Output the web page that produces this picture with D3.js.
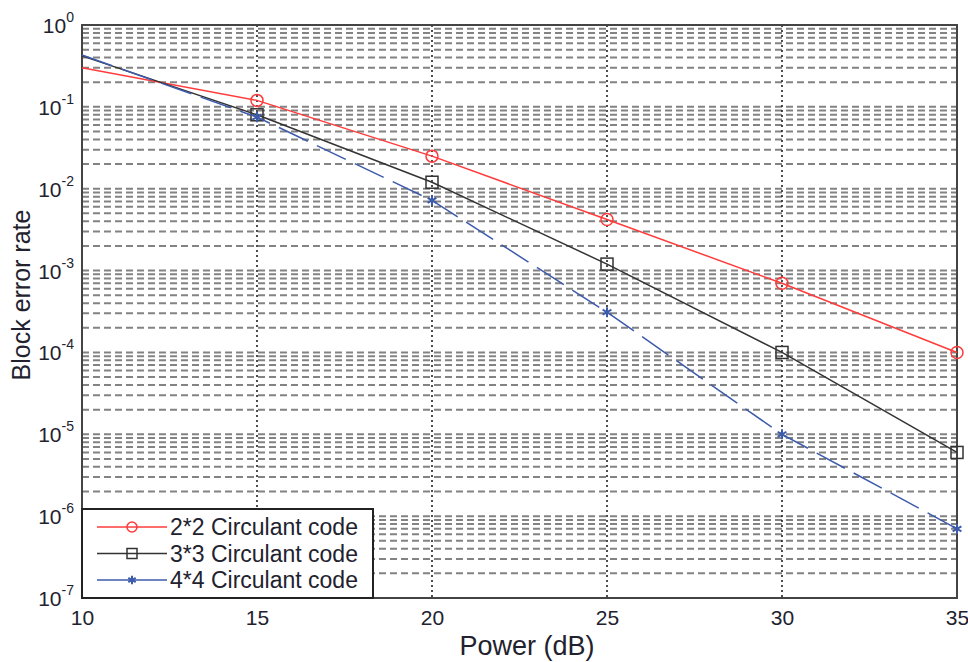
<!DOCTYPE html>
<html>
<head>
<meta charset="utf-8">
<script src="https://cdn.jsdelivr.net/npm/d3@7"></script>
<style>
  body { margin: 0; background: #fff; }
  svg text { font-family: Arial, "Liberation Sans", sans-serif; fill: #22222e; }
</style>
</head>
<body>
<div id="container"></div>
<script>
// Block error rate vs power, log scale

//_____ DATA _____
const powerDb = [ 10, 15, 20, 25, 30, 35 ];
const seriesNames = [ '2*2 Circulant code', '3*3 Circulant code', '4*4 Circulant code' ];
const ber2x2 = [ 0.30, 0.12, 0.025, 4.2e-3, 7e-4, 1e-4 ];
const ber3x3 = [ 0.42, 0.08, 0.012, 1.2e-3, 1e-4, 6e-6 ];
const ber4x4 = [ 0.43, 0.075, 7.2e-3, 3.1e-4, 1e-5, 7e-7 ];
const xTicks = [ 10, 15, 20, 25, 30, 35 ];
const yExponents = [ 0, -1, -2, -3, -4, -5, -6, -7 ];

//_____ LAYOUT _____
const W = 968, H = 662;
const margin = { top: 25, right: 11, bottom: 64, left: 82 };
const width = W - margin.left - margin.right;
const height = H - margin.top - margin.bottom;

const svg = d3.select( '#container' ).append( 'svg' )
  .attr( 'width', W ).attr( 'height', H );
const g = svg.append( 'g' ).attr( 'transform', `translate(${margin.left},${margin.top})` );

//_____ SCALES _____
const x = d3.scaleLinear().domain( [ 10, 35 ] ).range( [ 0, width ] );
const y = d3.scaleLog().domain( [ 1e-7, 1 ] ).range( [ height, 0 ] );

//_____ GRID _____
const minorVals = [];
yExponents.slice( 1 ).forEach( e => {
  for ( let k = 1; k <= 9; k++ ) minorVals.push( k * Math.pow( 10, e ) );
} );
g.append( 'g' ).selectAll( 'line' ).data( minorVals ).join( 'line' )
  .attr( 'x1', 0 ).attr( 'x2', width )
  .attr( 'y1', d => y( d ) ).attr( 'y2', d => y( d ) )
  .attr( 'stroke', '#6e6e6e' ).attr( 'stroke-width', 2 )
  .attr( 'stroke-dasharray', '7,4' ).attr( 'opacity', 0.85 );

g.append( 'g' ).selectAll( 'line' ).data( xTicks.slice( 1, -1 ) ).join( 'line' )
  .attr( 'x1', d => x( d ) ).attr( 'x2', d => x( d ) )
  .attr( 'y1', 0 ).attr( 'y2', height )
  .attr( 'stroke', '#222' ).attr( 'stroke-width', 1.6 )
  .attr( 'stroke-dasharray', '2,3' );

//_____ AXES _____
const xAxis = d3.axisBottom( x ).tickValues( xTicks ).tickSize( 0 ).tickPadding( 12 );
g.append( 'g' ).attr( 'transform', `translate(0,${height})` ).call( xAxis )
  .call( a => a.select( '.domain' ).remove() )
  .selectAll( 'text' ).style( 'font-size', '21px' ).attr( 'fill', '#22222e' );

// y tick labels as 10 with superscript exponent
const yl = g.append( 'g' );
yExponents.forEach( e => {
  const t = yl.append( 'text' )
    .attr( 'x', -8 ).attr( 'y', y( Math.pow( 10, e ) ) + 8 )
    .attr( 'text-anchor', 'end' ).style( 'font-size', '21px' );
  t.append( 'tspan' ).text( '10' );
  t.append( 'tspan' ).attr( 'dy', -11 ).style( 'font-size', '14px' ).text( e );
} );

// frame
g.append( 'rect' ).attr( 'width', width ).attr( 'height', height )
  .attr( 'fill', 'none' ).attr( 'stroke', '#444' ).attr( 'stroke-width', 2 );

//_____ SERIES _____
const series = [
  { name: seriesNames[ 0 ], values: ber2x2, color: '#ff3b3b', dash: null, marker: 'circle' },
  { name: seriesNames[ 1 ], values: ber3x3, color: '#333333', dash: null, marker: 'square' },
  { name: seriesNames[ 2 ], values: ber4x4, color: '#3d5bab', dash: '32,10', marker: 'star' }
];

const line = d3.line().x( d => x( d[ 0 ] ) ).y( d => y( d[ 1 ] ) );

function drawMarker ( sel, type, color, size ) {
  if ( type === 'circle' ) {
    sel.append( 'circle' ).attr( 'r', size ).attr( 'fill', 'none' )
      .attr( 'stroke', color ).attr( 'stroke-width', 1.5 );
  } else if ( type === 'square' ) {
    sel.append( 'rect' ).attr( 'x', -size ).attr( 'y', -size )
      .attr( 'width', size * 2 ).attr( 'height', size * 2 )
      .attr( 'fill', 'none' ).attr( 'stroke', color ).attr( 'stroke-width', 1.5 );
  } else {
    sel.append( 'path' ).attr( 'd', d3.symbol( d3.symbolAsterisk, size * size * 2 )() )
      .attr( 'fill', 'none' ).attr( 'stroke', color ).attr( 'stroke-width', 2 );
  }
}

series.forEach( s => {
  const pts = powerDb.map( ( p, i ) => [ p, s.values[ i ] ] );
  g.append( 'path' ).datum( pts ).attr( 'd', line )
    .attr( 'fill', 'none' ).attr( 'stroke', s.color ).attr( 'stroke-width', 1.5 )
    .attr( 'stroke-dasharray', s.dash );
  pts.slice( 1 ).forEach( p => {
    const m = g.append( 'g' ).attr( 'transform', `translate(${x( p[ 0 ] )},${y( p[ 1 ] )})` );
    drawMarker( m, s.marker, s.color, 6 );
  } );
} );

//_____ LEGEND _____
const legend = g.append( 'g' ).attr( 'transform', `translate(0,${height - 89})` );
legend.append( 'rect' ).attr( 'width', 291 ).attr( 'height', 89 )
  .attr( 'fill', '#fff' ).attr( 'stroke', '#222' ).attr( 'stroke-width', 2 );
series.forEach( ( s, i ) => {
  const ly = 18 + i * 26.5;
  legend.append( 'line' ).attr( 'x1', 15 ).attr( 'x2', 85 ).attr( 'y1', ly ).attr( 'y2', ly )
    .attr( 'stroke', s.color ).attr( 'stroke-width', 1.5 );
  const m = legend.append( 'g' ).attr( 'transform', `translate(50,${ly})` );
  drawMarker( m, s.marker, s.color, 5 );
  legend.append( 'text' ).attr( 'x', 88 ).attr( 'y', ly + 8 )
    .style( 'font-size', '23px' ).text( s.name );
} );

//_____ AXIS LABELS _____
svg.append( 'text' ).attr( 'x', 527 ).attr( 'y', 655 )
  .attr( 'text-anchor', 'middle' ).style( 'font-size', '27px' ).text( 'Power (dB)' );
svg.append( 'text' ).attr( 'transform', `translate(30,295) rotate(-90)` )
  .attr( 'text-anchor', 'middle' ).style( 'font-size', '25px' ).text( 'Block error rate' );
</script>
</body>
</html>
